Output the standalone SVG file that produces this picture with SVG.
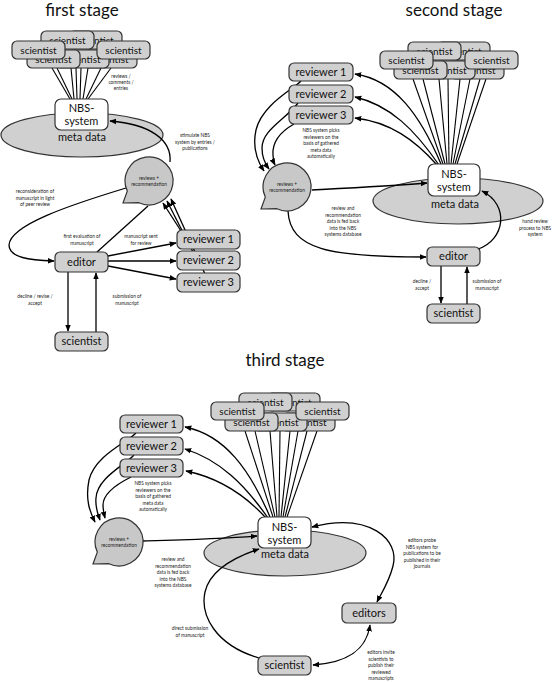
<svg xmlns="http://www.w3.org/2000/svg" width="554" height="682" viewBox="0 0 554 682">
<style>
text{font-family:Lato,"Open Sans","DejaVu Sans",sans-serif;fill:#111;text-anchor:middle}
.title{font-size:17px}
.box{fill:#d0d0d0;stroke:#333;stroke-width:1.2}
.nbs{fill:#fff;stroke:#333;stroke-width:1.2}
.meta{fill:#d0d0d0;stroke:#333;stroke-width:1.2}
.bub{fill:#c8c8c8;stroke:#333;stroke-width:1.2}
.t10{font-size:10px}
.t11{font-size:11px}
.lab{font-size:4.8px;fill:#222}
.c{fill:none;stroke:#000;stroke-width:1.3}
.ln{fill:none;stroke:#000;stroke-width:1.1}
.a{marker-end:url(#ah)}
.b{marker-start:url(#ah);marker-end:url(#ah)}
</style>
<defs>
<marker id="ah" viewBox="0 0 10 10" refX="9" refY="5" markerWidth="7" markerHeight="7" markerUnits="userSpaceOnUse" orient="auto-start-reverse"><path d="M0,1 L10,5 L0,9 z" fill="#000"/></marker>
<path id="bubble" d="M-21.7,10.1 L-26,22 L-10.1,21.7 A24 24 0 1 0 -21.7,10.1 Z"/>
</defs>

<text class="title" x="82" y="16">first stage</text>
<text class="title" x="454" y="16">second stage</text>
<text class="title" x="285" y="366">third stage</text>

<!-- meta data ellipses -->
<g id="meta1"><ellipse class="meta" cx="82" cy="135" rx="81" ry="22"/><text class="t11" x="82" y="141">meta data</text></g>
<g id="meta2"><ellipse class="meta" cx="458" cy="201" rx="85" ry="23"/><text class="t11" x="455" y="208">meta data</text></g>
<g id="meta3"><ellipse class="meta" cx="285" cy="553" rx="81" ry="23"/><text class="t11" x="285" y="558">meta data</text></g>

<g id="connectors">
<!-- stage 1 -->
<g class="ln">
<path d="M52,68 L70,99"/><path d="M57,68 L72,99"/><path d="M71,68 L74,99"/><path d="M76,68 L77,99"/>
<path d="M81,68 L80,99"/><path d="M88,68 L83,99"/><path d="M101,68 L86,99"/><path d="M111,68 L88,99"/>
</g>
<path class="c a" d="M170,162 C172,140 150,124 110,121"/>
<path class="c a" d="M126,188 C70,205 10,225 9,245 C9,258 30,260 54,261"/>
<path class="c" d="M97,252 L148,206"/>
<path class="c a" d="M108,256 L176,243"/>
<path class="c a" d="M108,261 L176,261"/>
<path class="c a" d="M108,266 L176,279"/>
<path class="c a" d="M181,231 L163,203"/>
<path class="c a" d="M193,252 L167,201"/>
<path class="c a" d="M205,274 L171,199"/>
<path class="c a" d="M68,272 L68,331"/>
<path class="c a" d="M96,332 L96,273"/>
<!-- stage 2 -->
<g class="ln">
<path d="M413,79 L443,164"/><path d="M423,79 L445,164"/><path d="M439,79 L447,164"/><path d="M448,79 L449,164"/>
<path d="M460,79 L451,164"/><path d="M470,79 L453,164"/><path d="M480,79 L455,164"/><path d="M486,79 L457,164"/>
</g>
<path class="c a" d="M441,164 C420,115 395,80 355,74"/>
<path class="c a" d="M439,165 C415,130 390,105 355,97"/>
<path class="c a" d="M437,165 C415,140 390,122 355,118"/>
<path class="c a" d="M301,81 C292,90 262,105 256,130 C252,148 258,162 264,171"/>
<path class="c a" d="M298,103 C285,120 262,130 262,148 C262,158 266,165 269,169"/>
<path class="c a" d="M294,124 C280,132 272,142 273,155 C273,160 274,163 275,165"/>
<path class="c a" d="M312,190 C350,188 390,186 427,183"/>
<path class="c a" d="M288,211 C290,250 330,257 426,257"/>
<path class="c a" d="M478,249 C505,240 510,205 482,191"/>
<path class="c a" d="M441,266 L441,303"/>
<path class="c a" d="M467,304 L467,267"/>
<!-- stage 3 -->
<g class="ln">
<path d="M245,431 L273,517"/><path d="M255,431 L275,517"/><path d="M270,431 L277,517"/><path d="M280,431 L279,517"/>
<path d="M290,431 L281,517"/><path d="M298,431 L283,517"/><path d="M307,431 L285,517"/><path d="M317,431 L287,517"/>
</g>
<path class="c a" d="M270,517 C250,470 225,435 185,427"/>
<path class="c a" d="M268,518 C245,485 220,460 185,449"/>
<path class="c a" d="M266,518 C245,495 220,478 186,471"/>
<path class="c a" d="M136,433 C128,442 95,455 89,480 C85,500 90,512 95,522"/>
<path class="c a" d="M134,455 C125,465 97,478 96,498 C95,508 98,514 100,520"/>
<path class="c a" d="M131,477 C115,485 103,495 103,505 C103,510 104,514 105,518"/>
<path class="c a" d="M143,541 C180,540 220,539 257,536"/>
<path class="c b" d="M312,527 C370,512 400,540 393,566 C389,582 381,594 377,602"/>
<path class="c b" d="M370,625 C366,652 345,663 313,665"/>
<path class="c a" d="M259,658 C215,645 200,615 205,592 C210,570 235,557 259,549"/>
</g>

<!-- labels -->
<g id="labels" class="lab">
<text class="lab" x="121" y="78">reviews /</text><text class="lab" x="121" y="84">comments /</text><text class="lab" x="121" y="90">entries</text>
<text class="lab" x="195" y="137">stimulate NBS</text><text class="lab" x="195" y="143.5">system by entries /</text><text class="lab" x="195" y="150">publications</text>
<text class="lab" x="35" y="193">reconsideration of</text><text class="lab" x="35" y="199.5">manuscript in light</text><text class="lab" x="35" y="206">of peer review</text>
<text class="lab" x="82" y="238">first evaluation of</text><text class="lab" x="82" y="245">manuscript</text>
<text class="lab" x="141" y="238">manuscript sent</text><text class="lab" x="141" y="245">for review</text>
<text class="lab" x="35" y="298">decline / revise /</text><text class="lab" x="35" y="305">accept</text>
<text class="lab" x="127" y="298">submission of</text><text class="lab" x="127" y="305">manuscript</text>

<text class="lab" x="321" y="132">NBS system picks</text><text class="lab" x="321" y="138.5">reviewers on the</text><text class="lab" x="321" y="145">basis of gathered</text><text class="lab" x="321" y="151.5">meta data</text><text class="lab" x="321" y="158">automatically</text>
<text class="lab" x="343" y="210">review and</text><text class="lab" x="343" y="216.5">recommendation</text><text class="lab" x="343" y="223">data is fed back</text><text class="lab" x="343" y="229.5">into the NBS</text><text class="lab" x="343" y="236">systems database</text>
<text class="lab" x="535" y="223">hand review</text><text class="lab" x="535" y="229.5">process to NBS</text><text class="lab" x="535" y="236">system</text>
<text class="lab" x="422" y="283">decline /</text><text class="lab" x="422" y="290">accept</text>
<text class="lab" x="487" y="283">submission of</text><text class="lab" x="487" y="290">manuscript</text>

<text class="lab" x="153" y="485">NBS system picks</text><text class="lab" x="153" y="491.5">reviewers on the</text><text class="lab" x="153" y="498">basis of gathered</text><text class="lab" x="153" y="504.5">meta data</text><text class="lab" x="153" y="511">automatically</text>
<text class="lab" x="173" y="561">review and</text><text class="lab" x="173" y="567.5">recommendation</text><text class="lab" x="173" y="574">data is fed back</text><text class="lab" x="173" y="580.5">into the NBS</text><text class="lab" x="173" y="587">systems database</text>
<text class="lab" x="190" y="630">direct submission</text><text class="lab" x="190" y="637">of manuscript</text>
<text class="lab" x="422" y="542">editors probe</text><text class="lab" x="422" y="548.5">NBS system for</text><text class="lab" x="422" y="555">publications to be</text><text class="lab" x="422" y="561.5">published in their</text><text class="lab" x="422" y="568">journals</text>
<text class="lab" x="381" y="654">editors invite</text><text class="lab" x="381" y="660.5">scientists to</text><text class="lab" x="381" y="667">publish their</text><text class="lab" x="381" y="673.5">reviewed</text><text class="lab" x="381" y="680">manuscripts</text>
</g>

<!-- stage 1 nodes -->
<g id="s1-scientists">
<rect class="box" x="69" y="31" width="53" height="18" rx="5"/><text class="t10" x="95.5" y="43.5">scientist</text>
<rect class="box" x="41" y="31" width="53" height="18" rx="5"/><text class="t10" x="67.5" y="43.5">scientist</text>
<rect class="box" x="84" y="50" width="53" height="18" rx="5"/><text class="t10" x="110.5" y="62.5">scientist</text>
<rect class="box" x="56" y="50" width="53" height="18" rx="5"/><text class="t10" x="82.5" y="62.5">scientist</text>
<rect class="box" x="27" y="50" width="53" height="18" rx="5"/><text class="t10" x="53.5" y="62.5">scientist</text>
<rect class="box" x="12" y="41" width="53" height="18" rx="5"/><text class="t10" x="38.5" y="53.5">scientist</text>
<rect class="box" x="97" y="41" width="53" height="18" rx="5"/><text class="t10" x="123.5" y="53.5">scientist</text>
</g>
<g id="s1-nbs"><rect class="nbs" x="55" y="99" width="53" height="31" rx="6"/><text class="t11" x="81.5" y="112">NBS-</text><text class="t11" x="81.5" y="125">system</text></g>
<g id="s1-reviews"><use href="#bubble" x="149" y="181" class="bub"/><text class="lab" x="149" y="180">reviews +</text><text class="lab" x="149" y="186">recommendation</text></g>
<g id="s1-editor"><rect class="box" x="55" y="252" width="53" height="20" rx="5"/><text class="t11" x="81.5" y="265.5">editor</text></g>
<g id="s1-reviewer1"><rect class="box" x="177" y="230" width="63" height="19" rx="5"/><text class="t11" x="208.5" y="243">reviewer 1</text></g>
<g id="s1-reviewer2"><rect class="box" x="177" y="251" width="63" height="19" rx="5"/><text class="t11" x="208.5" y="264">reviewer 2</text></g>
<g id="s1-reviewer3"><rect class="box" x="177" y="273" width="63" height="19" rx="5"/><text class="t11" x="208.5" y="286">reviewer 3</text></g>
<g id="s1-scientist"><rect class="box" x="55" y="332" width="53" height="19" rx="5"/><text class="t11" x="81.5" y="345">scientist</text></g>

<!-- stage 2 nodes -->
<g id="s2-scientists">
<rect class="box" x="437" y="42" width="53" height="18" rx="5"/><text class="t10" x="463.5" y="54.5">scientist</text>
<rect class="box" x="408" y="42" width="53" height="18" rx="5"/><text class="t10" x="434.5" y="54.5">scientist</text>
<rect class="box" x="451" y="61" width="53" height="18" rx="5"/><text class="t10" x="477.5" y="73.5">scientist</text>
<rect class="box" x="422" y="61" width="53" height="18" rx="5"/><text class="t10" x="448.5" y="73.5">scientist</text>
<rect class="box" x="394" y="61" width="53" height="18" rx="5"/><text class="t10" x="420.5" y="73.5">scientist</text>
<rect class="box" x="380" y="51" width="53" height="18" rx="5"/><text class="t10" x="406.5" y="63.5">scientist</text>
<rect class="box" x="465" y="51" width="53" height="18" rx="5"/><text class="t10" x="491.5" y="63.5">scientist</text>
</g>
<g id="s2-reviewer1"><rect class="box" x="289" y="63" width="64" height="18" rx="5"/><text class="t11" x="321" y="75.5">reviewer 1</text></g>
<g id="s2-reviewer2"><rect class="box" x="289" y="85" width="64" height="18" rx="5"/><text class="t11" x="321" y="97.5">reviewer 2</text></g>
<g id="s2-reviewer3"><rect class="box" x="289" y="106" width="64" height="18" rx="5"/><text class="t11" x="321" y="118.5">reviewer 3</text></g>
<g id="s2-nbs"><rect class="nbs" x="428" y="164" width="52" height="32" rx="6"/><text class="t11" x="454" y="178">NBS-</text><text class="t11" x="454" y="191">system</text></g>
<g id="s2-reviews"><use href="#bubble" x="287" y="187" class="bub"/><text class="lab" x="287" y="186">reviews +</text><text class="lab" x="287" y="192">recommendation</text></g>
<g id="s2-editor"><rect class="box" x="427" y="247" width="53" height="19" rx="5"/><text class="t11" x="453.5" y="260">editor</text></g>
<g id="s2-scientist"><rect class="box" x="427" y="304" width="53" height="19" rx="5"/><text class="t11" x="453.5" y="317">scientist</text></g>

<!-- stage 3 nodes -->
<g id="s3-scientists">
<rect class="box" x="267" y="393" width="53" height="18" rx="5"/><text class="t10" x="293.5" y="405.5">scientist</text>
<rect class="box" x="239" y="393" width="53" height="18" rx="5"/><text class="t10" x="265.5" y="405.5">scientist</text>
<rect class="box" x="282" y="413" width="53" height="18" rx="5"/><text class="t10" x="308.5" y="425.5">scientist</text>
<rect class="box" x="254" y="413" width="53" height="18" rx="5"/><text class="t10" x="280.5" y="425.5">scientist</text>
<rect class="box" x="225" y="413" width="53" height="18" rx="5"/><text class="t10" x="251.5" y="425.5">scientist</text>
<rect class="box" x="211" y="402" width="53" height="18" rx="5"/><text class="t10" x="237.5" y="414.5">scientist</text>
<rect class="box" x="296" y="402" width="53" height="18" rx="5"/><text class="t10" x="322.5" y="414.5">scientist</text>
</g>
<g id="s3-reviewer1"><rect class="box" x="120" y="415" width="63" height="18" rx="5"/><text class="t11" x="151.5" y="427.5">reviewer 1</text></g>
<g id="s3-reviewer2"><rect class="box" x="120" y="437" width="63" height="18" rx="5"/><text class="t11" x="151.5" y="449.5">reviewer 2</text></g>
<g id="s3-reviewer3"><rect class="box" x="120" y="459" width="63" height="18" rx="5"/><text class="t11" x="151.5" y="471.5">reviewer 3</text></g>
<g id="s3-nbs"><rect class="nbs" x="258" y="517" width="53" height="31" rx="6"/><text class="t11" x="284.5" y="531">NBS-</text><text class="t11" x="284.5" y="544">system</text></g>
<g id="s3-reviews"><use href="#bubble" x="119" y="542" class="bub"/><text class="lab" x="119" y="541">reviews +</text><text class="lab" x="119" y="547">recommendation</text></g>
<g id="s3-editors"><rect class="box" x="342" y="603" width="54" height="20" rx="5"/><text class="t11" x="369" y="616.5">editors</text></g>
<g id="s3-scientist"><rect class="box" x="258" y="656" width="53" height="19" rx="5"/><text class="t11" x="284.5" y="669">scientist</text></g>
</svg>
